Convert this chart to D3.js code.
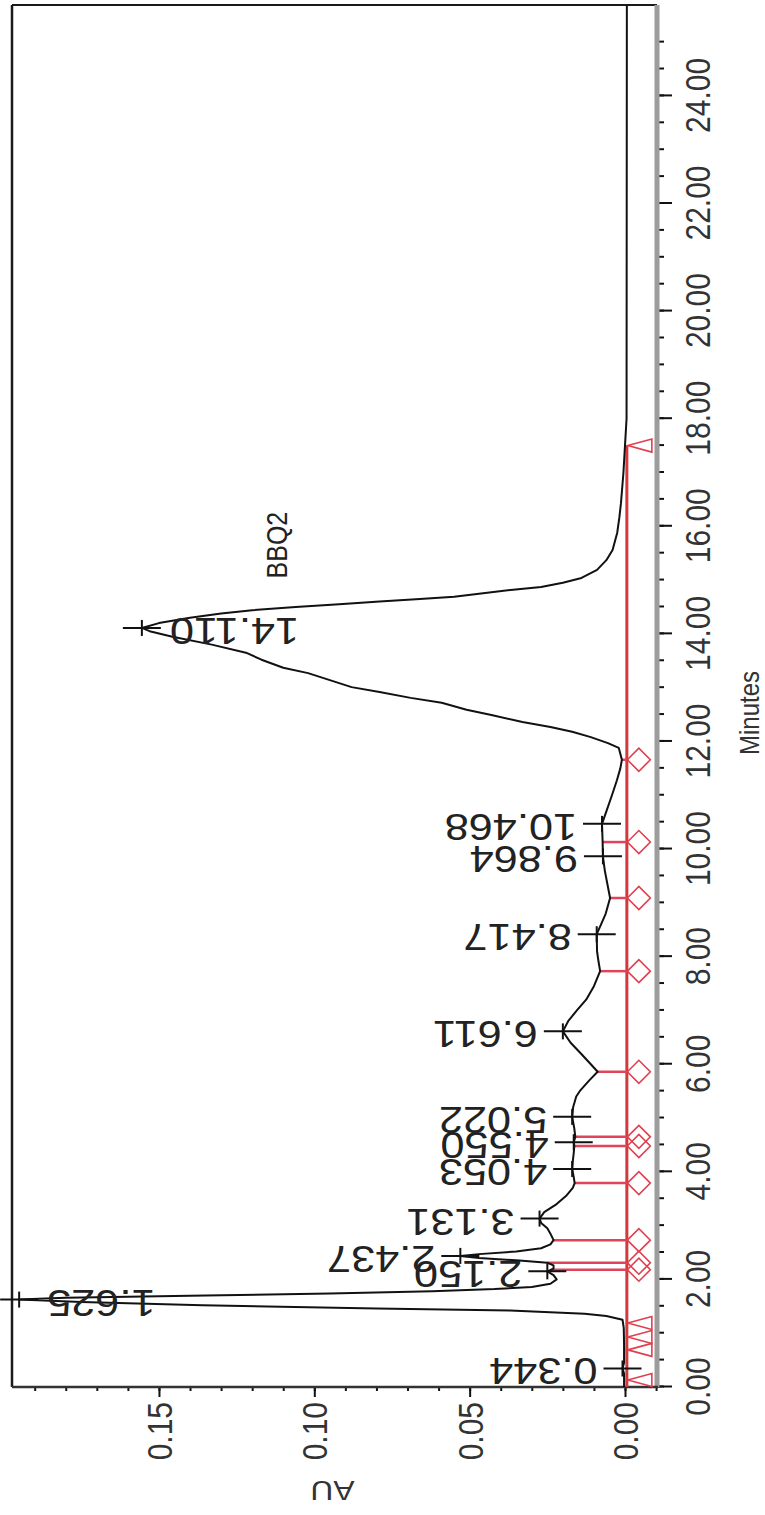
<!DOCTYPE html>
<html>
<head>
<meta charset="utf-8">
<script src="https://cdn.jsdelivr.net/npm/d3@7"></script>
<style>
  html, body { margin: 0; padding: 0; background: #fff; }
  svg { display: block; }
  text { font-family: "Liberation Sans", Arial, sans-serif; }
</style>
</head>
<body>
<svg id="chart" width="765" height="1515"></svg>
<script>
// Detector trace: retention time (min) and absorbance (AU)
const times = [
  0.00, 0.25, 0.344, 0.45, 0.80, 1.10, 1.25, 1.32, 1.36, 1.42,
  1.46, 1.52, 1.58, 1.625, 1.66, 1.70, 1.74, 1.78, 1.82, 1.86,
  1.92, 2.00, 2.08, 2.15, 2.20, 2.26, 2.31, 2.35, 2.40, 2.437,
  2.47, 2.52, 2.58, 2.65, 2.73, 2.85, 2.95, 3.05, 3.131, 3.25,
  3.40, 3.55, 3.70, 3.79, 3.90, 4.053, 4.20, 4.35, 4.48, 4.55,
  4.65, 4.80, 5.022, 5.20, 5.40, 5.52, 5.70, 5.86, 6.00, 6.20,
  6.40, 6.611, 6.80, 7.00, 7.20, 7.45, 7.73, 7.90, 8.10, 8.417,
  8.60, 8.80, 9.09, 9.30, 9.60, 9.864, 10.13, 10.30, 10.468, 10.70,
  11.00, 11.28, 11.50, 11.66, 11.88, 11.97, 12.08, 12.18, 12.27, 12.36,
  12.49, 12.59, 12.72, 12.81, 12.92, 13.01, 13.14, 13.27, 13.37, 13.52,
  13.65, 13.80, 13.95, 14.05, 14.11, 14.20, 14.30, 14.38, 14.44, 14.50,
  14.55, 14.60, 14.65, 14.69, 14.76, 14.82, 14.87, 14.95, 15.04, 15.19,
  15.37, 15.56, 15.88, 16.17, 16.43, 17.00, 17.50, 18.00, 25.69
];
const absorbance = [
  0.0003, 0.0003, 0.0008, 0.0003, 0.0003, 0.0004, 0.0008, 0.006, 0.013, 0.037,
  0.080, 0.136, 0.175, 0.195, 0.180, 0.135, 0.095, 0.062, 0.042, 0.030,
  0.024, 0.022, 0.023, 0.025, 0.023, 0.023, 0.025, 0.034, 0.047, 0.053,
  0.047, 0.035, 0.027, 0.024, 0.023, 0.024, 0.025, 0.027, 0.0275, 0.026,
  0.022, 0.019, 0.0168, 0.0162, 0.0165, 0.017, 0.0168, 0.0165, 0.0163, 0.0165,
  0.016, 0.0163, 0.017, 0.0167, 0.0157, 0.0143, 0.0115, 0.0088, 0.011, 0.0142,
  0.0175, 0.0200, 0.0183, 0.0155, 0.0125, 0.0100, 0.0080, 0.0085, 0.0090, 0.0091,
  0.0077, 0.0062, 0.0048, 0.0055, 0.0065, 0.0071, 0.0072, 0.0073, 0.0074, 0.0060,
  0.0042, 0.0026, 0.0015, 0.0010, 0.0020, 0.0055, 0.0110, 0.0170, 0.0240, 0.0330,
  0.0430, 0.0510, 0.0590, 0.0690, 0.0790, 0.0880, 0.0950, 0.1020, 0.1100, 0.1170,
  0.1220, 0.1330, 0.1460, 0.1530, 0.1555, 0.1500, 0.1400, 0.1300, 0.1200, 0.1060,
  0.0920, 0.0790, 0.0660, 0.0550, 0.0450, 0.0360, 0.0270, 0.0200, 0.0140, 0.0090,
  0.0060, 0.0040, 0.0025, 0.0018, 0.0013, 0.0005, 0.0000, -0.0005, -0.0006
];

// Integrated peaks (apex retention times)
const peakTimes = [0.344, 1.625, 2.150, 2.437, 3.131, 4.053, 4.550, 5.022, 6.611, 8.417, 9.864, 10.468, 14.110];
const peakLabels = ["0.344", "1.625", "2.150", "2.437", "3.131", "4.053", "4.550", "5.022", "6.611", "8.417", "9.864", "10.468", "14.110"];
const peakName = "BBQ2";

// Integration events: drop lines (diamonds) and start/end marks (triangles)
const dropTimes = [2.18, 2.31, 2.73, 3.79, 4.48, 4.65, 5.86, 7.73, 9.09, 10.13, 11.66];
const triangleTimes = [0.13, 0.69, 0.93, 1.19, 17.5];
const baselineLevel = -0.0006;
const baselineEnd = 17.5;

// Axis ticks
const timeMajor = [0, 2, 4, 6, 8, 10, 12, 14, 16, 18, 20, 22, 24];
const timeMinor = d3.range(0, 51).map(i => i * 0.5);
const auMajor = [0, 0.05, 0.10, 0.15];
const auMinor = d3.range(-1, 20).map(i => i / 100);

// Plot is laid out as a normal chromatogram, then turned a quarter turn.
const W = 1382, H = 645;
const x = d3.scaleLinear().domain([0, 25.69]).range([0, W]);
const y = d3.scaleLinear().domain([-0.0103, 0.1973]).range([H, 0]);
const STRETCH = 1.17;

const svg = d3.select("#chart");
const g = svg.append("g").attr("transform", "translate(12,1387) rotate(-90)");

function traceAt(t) {
  const i = d3.bisectLeft(times, t);
  if (i <= 0) return absorbance[0];
  if (i >= times.length) return absorbance[absorbance.length - 1];
  const t0 = times[i - 1], t1 = times[i];
  const f = (t - t0) / (t1 - t0);
  return absorbance[i - 1] + f * (absorbance[i] - absorbance[i - 1]);
}

// Frame
g.append("line").attr("x1", 0).attr("x2", W).attr("y1", 0).attr("y2", 0)
  .attr("stroke", "#1a1a1a").attr("stroke-width", 2.5);
g.append("line").attr("x1", W).attr("x2", W).attr("y1", 0).attr("y2", H)
  .attr("stroke", "#1a1a1a").attr("stroke-width", 2);

// Time axis
const timeMinorAxis = d3.axisBottom(x).tickValues(timeMinor).tickSize(7).tickFormat("");
const timeMajorAxis = d3.axisBottom(x).tickValues(timeMajor).tickSize(15).tickFormat(d3.format(".2f"));
const tMin = g.append("g").attr("transform", `translate(0,${H})`).call(timeMinorAxis);
const tMaj = g.append("g").attr("transform", `translate(0,${H})`).call(timeMajorAxis);
[tMin, tMaj].forEach(a => {
  a.select(".domain").remove();
  a.selectAll(".tick line").attr("stroke", "#111").attr("stroke-width", 2);
});
tMaj.selectAll(".tick text")
  .attr("y", 41 / STRETCH).attr("dy", null)
  .attr("dominant-baseline", "central")
  .attr("transform", `scale(1,${STRETCH})`)
  .attr("font-size", 30).attr("fill", "#333");

// AU axis
const auMinorAxis = d3.axisLeft(y).tickValues(auMinor).tickSize(4).tickFormat("");
const auMajorAxis = d3.axisLeft(y).tickValues(auMajor).tickSize(10).tickFormat(d3.format(".2f"));
const aMin = g.append("g").call(auMinorAxis);
const aMaj = g.append("g").call(auMajorAxis);
[aMin, aMaj].forEach(a => {
  a.select(".domain").remove();
  a.selectAll(".tick line").attr("stroke", "#111").attr("stroke-width", 2);
});
aMaj.selectAll(".tick text")
  .attr("x", -15).attr("dy", null)
  .attr("dominant-baseline", "central")
  .attr("transform", `scale(1,${STRETCH})`)
  .attr("font-size", 30).attr("fill", "#333");

// Axis lines
g.append("line").attr("x1", 0).attr("x2", W).attr("y1", H).attr("y2", H)
  .attr("stroke", "#9c9c9c").attr("stroke-width", 5);
g.append("line").attr("x1", 0).attr("x2", 0).attr("y1", 0).attr("y2", H + 1)
  .attr("stroke", "#333").attr("stroke-width", 2.5);

// Axis titles
g.append("text").text("Minutes")
  .attr("transform", `translate(${x(12.53)},${H + 92}) scale(1,${STRETCH})`)
  .attr("text-anchor", "middle").attr("dominant-baseline", "central")
  .attr("font-size", 24).attr("fill", "#333");
g.append("text").text("AU")
  .attr("transform", `translate(${-104},${H / 2 - 2}) rotate(-90) scale(${STRETCH},1)`)
  .attr("text-anchor", "middle").attr("dominant-baseline", "central")
  .attr("font-size", 27).attr("fill", "#333");

// Integration baseline
const baseY = y(baselineLevel);
g.append("line")
  .attr("x1", x(0)).attr("x2", x(baselineEnd))
  .attr("y1", baseY).attr("y2", baseY)
  .attr("stroke", "#d2383e").attr("stroke-width", 3);

// Drop lines
g.selectAll("line.drop").data(dropTimes).join("line").attr("class", "drop")
  .attr("x1", d => x(d)).attr("x2", d => x(d))
  .attr("y1", baseY).attr("y2", d => y(traceAt(d)))
  .attr("stroke", "#e0445a").attr("stroke-width", 2.5);

// Diamonds at drop lines
g.selectAll("path.diamond").data(dropTimes).join("path").attr("class", "diamond")
  .attr("d", d => {
    const cx = x(d), cy = baseY + 12, r = 11.5;
    return `M${cx},${cy - r}L${cx + r},${cy}L${cx},${cy + r}L${cx - r},${cy}Z`;
  })
  .attr("fill", "none").attr("stroke", "#e0404e").attr("stroke-width", 1.6);

// Triangles at start/end events
g.selectAll("path.tri").data(triangleTimes).join("path").attr("class", "tri")
  .attr("d", d => {
    const cx = x(d), top = baseY + 1, bot = baseY + 25, hw = 6.5;
    return `M${cx},${top}L${cx + hw},${bot}L${cx - hw},${bot}Z`;
  })
  .attr("fill", "none").attr("stroke", "#e0404e").attr("stroke-width", 1.6);

// Trace
const line = d3.line().x((d, i) => x(times[i])).y(d => y(d));
g.append("path").datum(absorbance)
  .attr("d", line)
  .attr("fill", "none").attr("stroke", "#111").attr("stroke-width", 2)
  .attr("stroke-linejoin", "round");

// Apex crosses and retention-time labels
peakTimes.forEach((t, i) => {
  const px = x(t), py = y(traceAt(t));
  g.append("line").attr("x1", px).attr("x2", px).attr("y1", py - 19).attr("y2", py + 19)
    .attr("stroke", "#111").attr("stroke-width", 2);
  g.append("line").attr("x1", px - 8).attr("x2", px + 8).attr("y1", py).attr("y2", py)
    .attr("stroke", "#111").attr("stroke-width", 2);

  const lbl = g.append("text").text(peakLabels[i])
    .attr("font-size", 37).attr("fill", "#222");
  const len = lbl.node().getComputedTextLength() * STRETCH;
  if (py - 25 - len > 2) {
    lbl.attr("text-anchor", "start")
      .attr("transform", `translate(${px + 10},${py - 25}) rotate(-90) scale(${STRETCH},1)`);
  } else {
    lbl.attr("text-anchor", "end")
      .attr("transform", `translate(${px + 10},${py + 28}) rotate(-90) scale(${STRETCH},1)`);
  }
});

// Peak name
g.append("text").text(peakName)
  .attr("transform", `translate(${x(15.65)},${y(0.112)}) scale(1,${STRETCH})`)
  .attr("text-anchor", "middle").attr("dominant-baseline", "central")
  .attr("font-size", 25).attr("fill", "#222");
</script>
</body>
</html>
